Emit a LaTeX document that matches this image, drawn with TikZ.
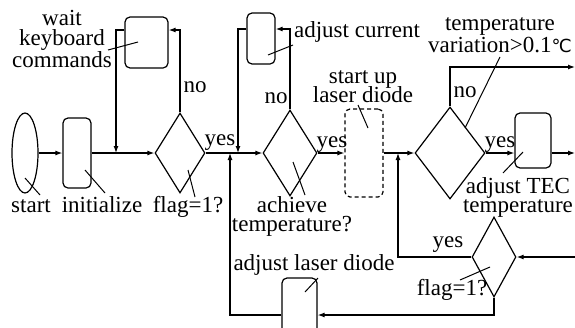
\documentclass[tikz,border=0pt]{standalone}
\usepackage{fontspec}
\setmainfont{Liberation Serif}
\newfontfamily\symfont{DejaVu Sans}
\usetikzlibrary{shapes.geometric,arrows.meta,calc}
\begin{document}
\begin{tikzpicture}[x=1pt,y=-1pt,
  every node/.style={font=\fontsize{23}{20}\selectfont, inner sep=0pt},
  ln/.style={line width=1.2pt},
  arr/.style={ln, -{Latex[length=7pt,width=5pt]}},
  leader/.style={line width=1pt},
  boxn/.style={draw, line width=1.2pt, rounded corners=5pt, rectangle},
  dia/.style={draw, line width=1.2pt, diamond, inner sep=0pt},
  lbl/.style={align=center, anchor=base},
]
\useasboundingbox (0,0) rectangle (575,327);
\clip (0,0) rectangle (575,327);
% shapes
\node[draw, ellipse, ln, minimum width=26pt, minimum height=80pt] (start) at (25,153) {};
\node[boxn, minimum width=28pt, minimum height=70pt] (init) at (77,153) {};
\node[boxn, minimum width=43pt, minimum height=51pt] (wait) at (146.5,42.5) {};
\node[dia, minimum width=50pt, minimum height=80pt] (flag1) at (180,153) {};
\node[boxn, minimum width=28pt, minimum height=51pt] (adjc) at (261,38.5) {};
\node[dia, minimum width=54pt, minimum height=86pt] (ach) at (290,153) {};
\node[boxn, dashed, dash pattern=on 4pt off 3pt, minimum width=38pt, minimum height=88pt] (sul) at (364,153) {};
\node[dia, minimum width=70pt, minimum height=92pt] (temp) at (450,153) {};
\node[boxn, minimum width=36pt, minimum height=55pt] (tec) at (533,140.5) {};
\node[dia, minimum width=44pt, minimum height=80pt] (flag2) at (494,257) {};
\node[boxn, minimum width=35pt, minimum height=74pt] (adjl) at (299.5,315) {};
% junction and edge coordinates
\coordinate (j1) at (116,153);
\coordinate (j2) at (238,153);
\coordinate (j3) at (230,153);
\coordinate (j4) at (398,153);
\coordinate (e1) at (575,67);
\coordinate (e2) at (575,153);
\coordinate (e3) at (575,257);
% connectors
\draw[arr] (start.east) -- (init.west);
\draw[arr] (init.east) -- (flag1.west);
\draw[arr] (flag1.north) |- ([yshift=12.5pt]wait.east);
\draw[arr] ([yshift=12.5pt]wait.west) -| (j1);
\draw[arr] (flag1.east) -- (ach.west);
\draw[arr] (ach.north) |- ([yshift=9.5pt]adjc.east);
\draw[arr] ([yshift=9.5pt]adjc.west) -| (j2);
\draw[arr] (adjl.west) -| (j3);
\draw[arr] (ach.east) -- (sul.west);
\draw[arr] (sul.east) -- (temp.west);
\draw[arr] (temp.north) |- (e1);
\draw[arr] (temp.east) -- (temp.east -| tec.west);
\draw[arr] (temp.east -| tec.east) -- (e2);
\draw[arr] (e3) -- (flag2.east);
\draw[arr] (flag2.west) -| (j4);
\draw[arr] (flag2.south) |- (adjl.east);
% labels (base = last line's baseline)
\node[lbl] (lwait) at (62,67) {wait\\keyboard\\commands};
\node[lbl] (lno1) at (195,92) {no};
\node[lbl] (lyes1) at (220,145) {yes};
\node[lbl] (ladjc) at (357,37) {adjust current};
\node[lbl] (lno2) at (276,103) {no};
\node[lbl] (lyes2) at (332,147) {yes};
\node[lbl] (lsul) at (363,102) {start up\\[-3pt]laser diode};
\node[lbl] (ltemp) at (500,52) {temperature\\variation>0.1{\symfont\fontsize{18}{20}\selectfont ℃}};
\node[lbl] (lno3) at (465,97) {no};
\node[lbl] (lyes3) at (500,147) {yes};
\node[lbl] (lstart) at (31,212) {start};
\node[lbl] (linit) at (102,212) {initialize};
\node[lbl] (lflag1) at (188,212) {flag=1?};
\node[lbl] (lach) at (292,231) {achieve\\[-1pt]temperature?};
\node[lbl] (ltec) at (518,212) {adjust TEC\\[-1pt]temperature};
\node[lbl] (ladjl) at (314,270) {adjust laser diode};
\node[lbl] (lyes4) at (448,247) {yes};
\node[lbl] (lflag2) at (452,295) {flag=1?};
% leader lines
\draw[leader] ([shift={(-38.5,7.5)}]wait.center) -- ([shift={(-8.5,-0.5)}]wait.center);
\draw[leader] ([shift={(7,16.5)}]adjc.center) -- ([shift={(32,6.5)}]adjc.center);
\draw[leader] ([shift={(-6,-48)}]sul.center) -- ([shift={(4,-25)}]sul.center);
\draw[leader] ([shift={(50,-96)}]temp.center) -- ([shift={(15,-25)}]temp.center);
\draw[leader] ([shift={(0,25)}]start.center) -- ([shift={(15,42)}]start.center);
\draw[leader] ([shift={(8,17)}]init.center) -- ([shift={(28,40)}]init.center);
\draw[leader] ([shift={(8,17)}]flag1.center) -- ([shift={(15,44)}]flag1.center);
\draw[leader] ([shift={(3,9)}]ach.center) -- ([shift={(15,42)}]ach.center);
\draw[leader] ([shift={(-10,11.5)}]tec.center) -- ([shift={(-30,32.5)}]tec.center);
\draw[leader] ([shift={(-4,10)}]flag2.center) -- ([shift={(-34,23)}]flag2.center);
\draw[leader] ([shift={(5.5,-23)}]adjl.center) -- ([shift={(18.5,-37)}]adjl.center);
\end{tikzpicture}
\end{document}
